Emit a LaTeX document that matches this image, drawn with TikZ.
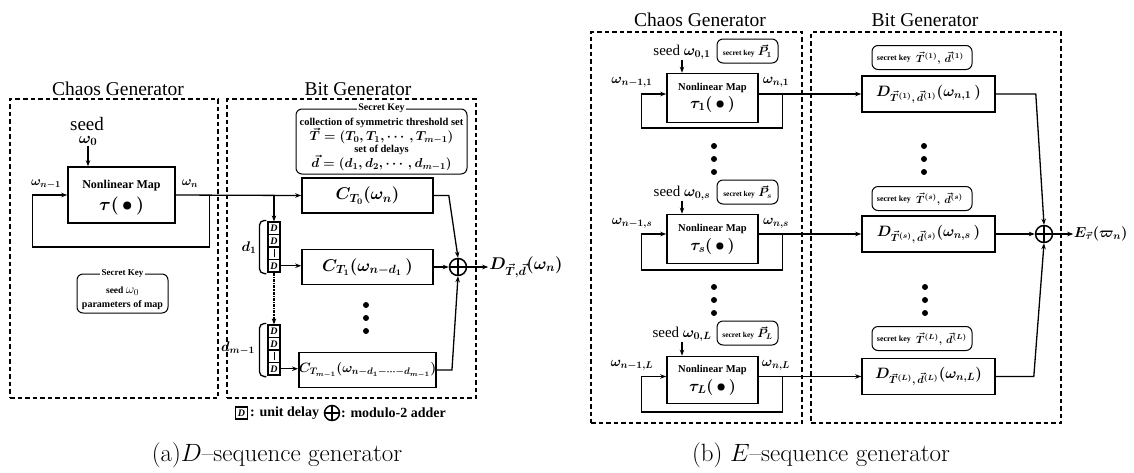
\RequirePackage{fix-cm}
\documentclass[tikz,border=0pt]{standalone}
\usepackage{fontspec}
\usepackage{amsmath}
\newfontfamily\tms{Liberation Serif}
\usetikzlibrary{arrows.meta,calc}
\newcommand\fsize[1]{\fontsize{#1}{#1}\selectfont}

\begin{document}
\begin{tikzpicture}[x=1pt,y=-1pt,
  grp/.style={draw,line width=1.4pt,dash pattern=on 4.5pt off 3pt,inner sep=0pt},
  blk/.style={draw,line width=1.6pt,inner sep=0pt},
  keybox/.style={draw,line width=1pt,rounded corners=6pt,inner sep=0pt},
  wire/.style={line width=1.3pt},
  arr/.style={wire,-{Stealth[length=6pt,width=4.5pt]}},
  ttl/.style={font=\tms\fsize{19.5},anchor=base,inner sep=0pt},
  lbl/.style={inner sep=0pt},
  bsmall/.style={lbl,font=\tms\bfseries\fsize{#1}},
  mth/.style={lbl,font=\fsize{#1}\boldmath},
  dot/.style={circle,fill,inner sep=0pt,minimum size=6pt},
  xor/.style={circle,draw,line width=1.5pt,minimum size=17pt,inner sep=0pt,
    path picture={\draw[line width=1.5pt]
      (path picture bounding box.north) -- (path picture bounding box.south)
      (path picture bounding box.west) -- (path picture bounding box.east);}},
  cell/.style={draw,line width=1.2pt,minimum width=12pt,minimum height=12.5pt,
    inner sep=0pt,font=\tms\bfseries\itshape\fsize{10}},
]
\fill[white] (0,0) rectangle (1134,472);
\useasboundingbox (0,0) rectangle (1134,472);

% ================= (a) D-sequence generator =================
\node[grp,minimum width=208pt,minimum height=299pt] (cgA) at (114,248.5) {};
\node[grp,minimum width=249pt,minimum height=299pt] (bgA) at (351.5,248.5) {};
\node[ttl] (cgAt) at (118,95) {Chaos Generator};
\node[ttl] (bgAt) at (358,95) {Bit Generator};

% chaos map with feedback
\node[blk,minimum width=107pt,minimum height=56pt] (mapA) at (121.5,195) {};
\node[bsmall=12] (mapAn) at (121.5,186) {Nonlinear Map};
\node[mth=18] (mapAt) at (121.5,206) {$\tau(\,\bullet\,)$};
\node[lbl,font=\tms\fsize{19}] (seedA) at (87,124) {seed};
\node[mth=16] (omA) at (88,141) {$\omega_0$};
\node[mth=13] (inA) at (46,184) {$\omega_{n-1}$};
\node[mth=13] (outA) at (190,184) {$\omega_n$};

\node[keybox,minimum width=91pt,minimum height=39pt] (keyA) at (122.5,293.5) {};
\node[bsmall=9,fill=white,inner xsep=1.5pt] (keyAt) at (keyA.north) {Secret Key};
\node[bsmall=9.5] (keyA1) at (122.5,291) {seed \fsize{13}$\omega_0$};
\node[bsmall=10] (keyA2) at (122.5,305) {parameters of map};

% bit generator
\node[keybox,minimum width=171pt,minimum height=65pt] (keyB) at (381.5,141.5) {};
\node[bsmall=10,fill=white,inner xsep=1.5pt] (keyBt) at (keyB.north) {Secret Key};
\node[bsmall=10.5] (keyB1) at (381.5,122.5) {collection of symmetric threshold set};
\node[mth=13] (keyB2) at (381.5,136) {$\vec{T}=(T_0,T_1,\cdots,T_{m-1})$};
\node[bsmall=10.5] (keyB3) at (381.5,149.5) {set of delays};
\node[mth=13] (keyB4) at (381.5,163) {$\vec{d}=(d_1,d_2,\cdots,d_{m-1})$};

\node[blk,minimum width=131pt,minimum height=35pt,font=\fsize{17}\boldmath] (c0) at (367.5,195.5) {$C_{T_0}(\omega_n)$};
\node[blk,minimum width=131pt,minimum height=35pt,font=\fsize{17}\boldmath] (c1) at (367.5,267) {$C_{T_1}(\omega_{n{-}d_1}\,)$};
\node[blk,minimum width=131pt,minimum height=35pt,font=\fsize{13.5}\boldmath] (cm) at (367.5,370) {$C_{T_{m-1}}(\omega_{n{-}d_1{-}\cdots{-}d_{m-1}})$};

% delay registers
\node[cell] (r1a) at (274,228.25) {D};
\node[cell] (r1b) at (274,240.75) {D};
\node[cell] (r1c) at (274,253.25) {\rule{0.9pt}{8pt}};
\node[cell] (r1d) at (274,265.75) {D};
\node[cell] (r2a) at (274,331.25) {D};
\node[cell] (r2b) at (274,343.75) {D};
\node[cell] (r2c) at (274,356.25) {\rule{0.9pt}{8pt}};
\node[cell] (r2d) at (274,368.75) {D};
\draw[wire,rounded corners=5pt] ($(r1a.north west)+(-1,-1)$) -| ($(r1d.south west)+(-8,1)$) -- ($(r1d.south west)+(-1,1)$);
\draw[wire,rounded corners=5pt] ($(r2a.north west)+(-1,-1)$) -| ($(r2d.south west)+(-8,1)$) -- ($(r2d.south west)+(-1,1)$);
\node[mth=14] (d1l) at (249,248) {$d_1$};
\node[mth=14] (dml) at (238,348) {$d_{m-1}$};

\node[dot] (dA1) at (366,305) {};
\node[dot] (dA2) at (366,318) {};
\node[dot] (dA3) at (366,331) {};

\node[xor] (xorA) at (458,267) {};

% connections
\draw[arr] (mapA.east) -- (c0.west);
\draw[arr] (omA.south) -- (omA.south |- mapA.north);
\draw[arr] ($(mapA.east)+(34,0)$) -- ++(0,52) -| ($(mapA.west)+(-35,0)$) -- (mapA.west);
\draw[arr] (r1a.north |- c0.west) -- (r1a.north);
\draw[arr] (r1d.east) -- (r1d.east -| c1.west);
\draw[wire,densely dashdotted,-{Stealth[length=6pt,width=4.5pt]}] (r1d.south) -- (r2a.north);
\draw[arr] (r2d.east) -- (r2d.east -| cm.west);
\draw[arr] (c0.east) -- ++(15,0) -- (xorA.north);
\draw[arr] (c1.east) -- (xorA.west);
\draw[arr] (cm.east) -- ++(15,0) -- (xorA.south);
\draw[arr] (xorA.east) -- ++(21,0) coordinate (oA);
\node[anchor=west,inner sep=1pt,font=\fsize{17}\boldmath] (outAl) at (oA) {$D_{\vec{T},\vec{d}}(\omega_n)$};

% legend
\node[cell,minimum height=12pt] (legD) at (241.5,413) {D};
\node[bsmall=14,anchor=west] (legDt) at (250,413) {: unit delay};
\node[xor,minimum size=15pt] (legX) at (332,413) {};
\node[bsmall=14,anchor=west] (legXt) at (341,413) {: modulo-2 adder};

% ================= (b) E-sequence generator =================
\node[grp,minimum width=211pt,minimum height=391pt] (cgB) at (696.5,227.5) {};
\node[grp,minimum width=250pt,minimum height=391pt] (bgB) at (936,227.5) {};
\node[ttl] (cgBt) at (700,26) {Chaos Generator};
\node[ttl] (bgBt) at (925,26) {Bit Generator};

% chaos maps
\node[blk,minimum width=91pt,minimum height=49pt] (mB1) at (712.5,98) {};
\node[bsmall=10.5] (mB1n) at (712.5,88) {Nonlinear Map};
\node[mth=16] (mB1t) at (712.5,104) {$\tau_1(\,\bullet\,)$};
\node[blk,minimum width=91pt,minimum height=49pt] (mBs) at (712.5,239) {};
\node[bsmall=10.5] (mBsn) at (712.5,228.5) {Nonlinear Map};
\node[mth=16] (mBst) at (712.5,246) {$\tau_s(\,\bullet\,)$};
\node[blk,minimum width=91pt,minimum height=47pt] (mBL) at (712.5,380) {};
\node[bsmall=10.5] (mBLn) at (712.5,370) {Nonlinear Map};
\node[mth=16] (mBLt) at (712.5,387) {$\tau_L(\,\bullet\,)$};

\node[lbl,font=\tms\fsize{15}] (sB1) at (682,52) {seed {\boldmath$\omega_{0,1}$}};
\node[lbl,font=\tms\fsize{15}] (sBs) at (682,193) {seed {\boldmath$\omega_{0,s}$}};
\node[lbl,font=\tms\fsize{15}] (sBL) at (682,334) {seed {\boldmath$\omega_{0,L}$}};
\node[keybox,minimum width=61pt,minimum height=24pt] (kP1) at (747.5,51) {{\tms\bfseries\fsize{7.5}secret key} {\fsize{12}\boldmath$\vec{P}_1$}};
\node[keybox,minimum width=61pt,minimum height=24pt] (kPs) at (747.5,192) {{\tms\bfseries\fsize{7.5}secret key} {\fsize{12}\boldmath$\vec{P}_s$}};
\node[keybox,minimum width=61pt,minimum height=24pt] (kPL) at (747.5,333) {{\tms\bfseries\fsize{7.5}secret key} {\fsize{12}\boldmath$\vec{P}_L$}};

\node[mth=14] (iB1) at (632,82) {$\omega_{n-1,1}$};
\node[mth=14] (oB1) at (776,82) {$\omega_{n,1}$};
\node[mth=14] (iBs) at (632,223) {$\omega_{n-1,s}$};
\node[mth=14] (oBs) at (776,223) {$\omega_{n,s}$};
\node[mth=14] (iBL) at (632,365) {$\omega_{n-1,L}$};
\node[mth=14] (oBL) at (776,365) {$\omega_{n,L}$};

\node[dot] (dB1) at (714,146) {};
\node[dot] (dB2) at (714,159) {};
\node[dot] (dB3) at (714,172) {};
\node[dot] (dB4) at (714,287) {};
\node[dot] (dB5) at (714,300) {};
\node[dot] (dB6) at (714,313) {};

% bit generators: key boxes with their captions and parameters
\node[keybox,minimum width=100pt,minimum height=24pt] (kT1) at (922,57.5) {};
\node[bsmall=8,anchor=east] (kT1a) at (911,58.5) {secret key};
\node[mth=10.5,anchor=west] (kT1b) at (916,58) {$\vec{T}{}^{(1)},\,\vec{d}{}^{(1)}$};
\node[keybox,minimum width=100pt,minimum height=24pt] (kTs) at (922,198.5) {};
\node[bsmall=8,anchor=east] (kTsa) at (911,199.5) {secret key};
\node[mth=10.5,anchor=west] (kTsb) at (916,199) {$\vec{T}{}^{(s)},\,\vec{d}{}^{(s)}$};
\node[keybox,minimum width=100pt,minimum height=24pt] (kTL) at (922,338.5) {};
\node[bsmall=8,anchor=east] (kTLa) at (911,339.5) {secret key};
\node[mth=10.5,anchor=west] (kTLb) at (916,339) {$\vec{T}{}^{(L)},\,\vec{d}{}^{(L)}$};

\node[blk,minimum width=133pt,minimum height=36pt,font=\fsize{15}\boldmath] (gB1) at (928.5,94) {$D_{\vec{T}{}^{(1)},\,\vec{d}{}^{(1)}}(\omega_{n,1}\,)$};
\node[blk,minimum width=133pt,minimum height=36pt,font=\fsize{15}\boldmath] (gBs) at (928.5,234) {$D_{\vec{T}{}^{(s)},\,\vec{d}{}^{(s)}}(\omega_{n,s}\,)$};
\node[blk,minimum width=133pt,minimum height=36pt,font=\fsize{15}\boldmath] (gBL) at (928.5,376.5) {$D_{\vec{T}{}^{(L)},\,\vec{d}{}^{(L)}}(\omega_{n,L})$};

\node[dot] (dB7) at (924,146) {};
\node[dot] (dB8) at (924,159) {};
\node[dot] (dB9) at (924,172) {};
\node[dot] (dB10) at (925,287) {};
\node[dot] (dB11) at (925,300) {};
\node[dot] (dB12) at (925,313) {};

\node[xor] (xorB) at (1044,234) {};

% connections
\draw[arr] (sB1.south) -- (sB1.south |- mB1.north);
\draw[arr] (sBs.south) -- (sBs.south |- mBs.north);
\draw[arr] (sBL.south) -- (sBL.south |- mBL.north);
\draw[arr] (mB1.east |- gB1.west) -- (gB1.west);
\draw[arr] (mBs.east |- gBs.west) -- (gBs.west);
\draw[arr] (mBL.east |- gBL.west) -- (gBL.west);
\draw[arr] ($(mB1.east |- gB1.west)+(24,0)$) -- ++(0,34) -| ($(mB1.west |- gB1.west)+(-25,0)$) -- (mB1.west |- gB1.west);
\draw[arr] ($(mBs.east |- gBs.west)+(24,0)$) -- ++(0,36) -| ($(mBs.west |- gBs.west)+(-25,0)$) -- (mBs.west |- gBs.west);
\draw[arr] ($(mBL.east |- gBL.west)+(24,0)$) -- ++(0,35.5) -| ($(mBL.west |- gBL.west)+(-25,0)$) -- (mBL.west |- gBL.west);
\draw[arr] (gB1.east) -- ++(40,0) -- (xorB.north);
\draw[arr] (gBs.east) -- (xorB.west);
\draw[arr] (gBL.east) -- ++(38,0) -- (xorB.south);
\draw[arr] (xorB.east) -- ++(20,0) coordinate (oB);
\node[anchor=west,inner sep=0.5pt,font=\fsize{14.5}\boldmath] (outBl) at (oB) {$E_{\vec{\tau}}(\varpi_n)$};

% captions
\node[font=\fsize{25}] (capA) at (277,455) {(a)$D$--sequence generator};
\node[font=\fsize{25}] (capB) at (821,455) {(b) $E$--sequence generator};
\end{tikzpicture}
\end{document}
